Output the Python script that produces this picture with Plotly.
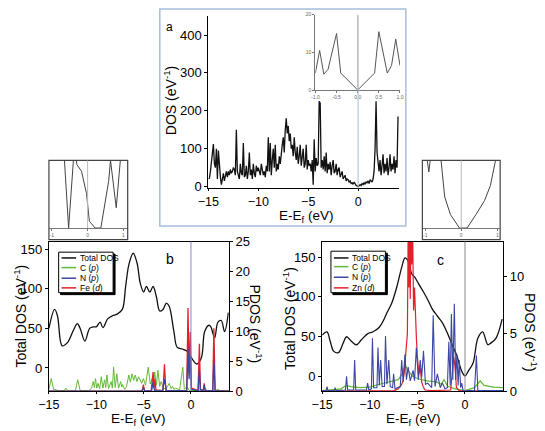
import plotly.graph_objects as go

# ---------------- data ----------------
# panel a : DOS of the sheet
E_a = [-15.0, -14.9, -14.8, -14.7, -14.6, -14.5, -14.4, -14.3, -14.2, -14.1, -14.0,
       -13.9, -13.8, -13.7, -13.6, -13.5, -13.4, -13.3, -13.2, -13.1, -13.0,
       -12.9, -12.8, -12.7, -12.6, -12.5, -12.4, -12.3, -12.2, -12.1, -12.0,
       -11.9, -11.8, -11.7, -11.6, -11.5, -11.4, -11.3, -11.2, -11.1, -11.0,
       -10.9, -10.8, -10.7, -10.6, -10.5, -10.4, -10.3, -10.2, -10.1, -10.0,
       -9.9, -9.8, -9.7, -9.6, -9.5, -9.4, -9.3, -9.2, -9.1, -9.0,
       -8.9, -8.8, -8.7, -8.6, -8.5, -8.4, -8.3, -8.2, -8.1, -8.0,
       -7.9, -7.8, -7.7, -7.6, -7.5, -7.4, -7.3, -7.2, -7.1, -7.0,
       -6.9, -6.8, -6.7, -6.6, -6.5, -6.4, -6.3, -6.2, -6.1, -6.0,
       -5.9, -5.8, -5.7, -5.6, -5.5, -5.4, -5.3, -5.2, -5.1, -5.0,
       -4.9, -4.8, -4.7, -4.6, -4.5, -4.4, -4.3, -4.2, -4.1, -4.0,
       -3.9, -3.8, -3.7, -3.6, -3.5, -3.4, -3.3, -3.2, -3.1, -3.0,
       -2.9, -2.8, -2.7, -2.6, -2.5, -2.4, -2.3, -2.2, -2.1, -2.0,
       -1.9, -1.8, -1.7, -1.6, -1.5, -1.4, -1.3, -1.2, -1.1, -1.0,
       -0.9, -0.8, -0.7, -0.6, -0.5, -0.4, -0.3, -0.2, -0.1, 0.0,
       0.1, 0.2, 0.3, 0.4, 0.5, 0.6, 0.7, 0.8, 0.9, 1.0,
       1.1, 1.2, 1.3, 1.4, 1.5, 1.6, 1.7, 1.8, 1.9, 2.0,
       2.1, 2.2, 2.3, 2.4, 2.5, 2.6, 2.7, 2.8, 2.9, 3.0,
       3.1, 3.2, 3.3, 3.4, 3.5, 3.6, 3.7, 3.8, 3.9, 4.0]
DOS_a = [20, 22, 40, 65, 80, 112, 60, 50, 100, 20, 95,
         40, 25, 5, 20, 35, 15, 30, 40, 25, 40,
         30, 45, 35, 40, 50, 45, 30, 150, 40, 25,
         20, 60, 35, 30, 115, 25, 30, 55, 20, 40,
         90, 30, 45, 20, 60, 35, 25, 55, 40, 50,
         35, 30, 60, 45, 30, 40, 25, 55, 40, 130,
         40, 115, 30, 70, 100, 50, 110, 40, 60, 45,
         80, 60, 95, 110, 130, 90, 150, 180, 140, 160,
         120, 140, 100, 110, 80, 130, 90, 70, 105, 60,
         80, 110, 55, 75, 100, 50, 60, 110, 45, 70,
         55, 60, 40, 70, 5, 125, 40, 75, 55, 60,
         225, 220, 50, 70, 45, 80, 40, 90, 35, 60,
         45, 65, 30, 55, 70, 35, 40, 60, 30, 45,
         50, 25, 35, 40, 20, 25, 30, 15, 20, 18,
         12, 15, 8, 10, 6, 12, 5, 3, 2, 0,
         2, 5, 3, 8, 5, 10, 6, 12, 10, 15,
         8, 18, 15, 12, 20, 40, 100, 225, 90, 60,
         40, 70, 30, 55, 85, 35, 60, 40, 75, 30,
         50, 85, 40, 60, 45, 80, 35, 70, 50, 185]

# inset of panel a (near Ef)
E_ia = [-1.0, -0.9, -0.8, -0.7, -0.5, -0.4, 0.0, 0.4, 0.5, 0.7, 0.8, 0.9, 1.0]
DOS_ia = [4.5, 10.5, 4.2, 5.5, 15, 4.5, 0, 4.5, 15.5, 4.5, 6.5, 13.5, 6.5]

# panel b : total DOS
E_b_tot = [-15.0, -14.4, -14.1, -13.6, -13.05, -12.4, -12.0, -11.7, -11.2, -10.7,
           -10.3, -10.0, -9.6, -9.3, -8.8, -8.3, -7.8, -7.25, -6.9, -6.55,
           -6.1, -5.7, -5.35, -5.0, -4.7, -4.35, -4.0, -3.65, -3.3, -2.95,
           -2.6, -2.3, -1.8, -1.45, -0.9, -0.4, -0.05, 0.27, 0.6, 1.1,
           1.45, 1.9, 2.1, 2.5, 2.85, 3.2, 3.55, 3.95]
DOS_b_tot = [50, 74, 66, 28, 32, 48, 56, 50, 34, 50,
             52, 52, 58, 51, 62, 66, 68, 74, 103, 131,
             145, 133, 107, 96, 103, 96, 103, 90, 72, 74,
             82, 78, 46, 26, 24, 21, 15, 9, 5, 13,
             46, 54, 52, 38, 58, 60, 46, 70]
# panel b : C(p)
E_b_C = [-15.0, -14.76, -14.5, -14.0, -13.4, -13.22, -13.0, -12.2, -11.96, -11.7,
         -10.8, -10.5, -10.32, -10.2, -10.08, -9.95, -9.81, -9.65, -9.47, -9.3,
         -9.12, -9.0, -8.88, -8.7, -8.44, -8.3, -8.17, -8.0, -7.83, -7.65,
         -7.42, -7.3, -7.24, -7.0, -6.8, -6.56, -6.4, -6.22, -6.05, -5.88,
         -5.7, -5.54, -5.37, -5.2, -5.02, -4.8, -4.51, -4.3, -4.1, -3.95,
         -3.83, -3.65, -3.49, -3.3, -3.15, -2.9, -2.6, -2.29, -2.1, -1.95,
         -1.8, -1.61, -1.2, -0.86, -0.7, -0.41, -0.2, 0.5, 1.2, 1.47,
         1.7, 2.6, 2.83, 3.1, 4.0]
PDOS_b_C = [0.3, 2.1, 0.3, 0.1, 0.1, 0.5, 0.05, 0.1, 1.9, 0.1,
            0.1, 0.5, 1.6, 0.6, 2.1, 0.5, 1.3, 0.4, 2.4, 0.5,
            1.9, 0.6, 2.7, 0.4, 1.6, 0.5, 4.0, 0.6, 2.9, 0.5,
            1.6, 0.7, 1.1, 0.3, 0.8, 2.7, 1.5, 2.9, 1.8, 2.7,
            1.6, 2.4, 1.9, 1.3, 2.1, 1.0, 4.0, 1.2, 2.1, 0.9,
            3.2, 1.0, 3.5, 0.8, 1.6, 0.4, 0.5, 1.3, 0.4, 0.8,
            0.3, 0.5, 0.2, 4.0, 0.3, 0.8, 0.1, 0.1, 0.1, 0.5,
            0.1, 0.1, 0.3, 0.05, 0.1]
# panel b : N(p)
E_b_N = [-15.0, -5.2, -5.02, -4.85, -4.15, -4.0, -3.85, -3.0, -2.8, -2.6,
         -0.45, -0.31, -0.2, -0.07, 0.05, 0.75, 0.89, 1.0, 1.3, 1.4,
         1.5, 2.3, 2.42, 2.55, 4.0]
PDOS_b_N = [0.0, 0.0, 0.5, 0.0, 0.1, 1.5, 0.1, 0.1, 2.0, 0.1,
            0.1, 7.0, 2.0, 6.0, 0.3, 0.1, 3.5, 0.2, 0.1, 1.0,
            0.1, 0.1, 5.0, 0.1, 0.0]
# panel b : Fe(d)
E_b_Fe = [-15.0, -6.0, -5.15, -5.02, -4.9, -4.2, -4.0, -3.9, -3.8, -3.7,
          -2.95, -2.8, -2.65, -0.45, -0.31, -0.2, -0.07, 0.05, 0.75, 0.89,
          1.0, 1.3, 1.4, 1.5, 2.3, 2.42, 2.55, 4.0]
PDOS_b_Fe = [0.0, 0.0, 0.05, 1.1, 0.05, 0.1, 3.2, 0.5, 2.0, 0.2,
             0.1, 4.5, 0.1, 0.1, 13.9, 3.0, 9.9, 0.5, 0.1, 7.9,
             0.3, 0.1, 1.3, 0.1, 0.1, 10.5, 0.1, 0.0]
# inset of panel b
E_ib = [-0.67, -0.53, -0.37, -0.3, -0.17, -0.03, 0.05, 0.21, 0.37, 0.59, 0.64, 0.8, 0.93]
DOS_ib = [12, 0, 12, 9.4, 8.4, 5.1, 1.0, 0, 0, 7, 10, 3, 11]

# panel c : total DOS
E_c_tot = [-15.0, -14.5, -14.15, -13.8, -13.3, -12.8, -12.45, -11.9, -11.4, -10.9,
           -10.2, -9.7, -9.0, -8.5, -8.2, -7.7, -7.15, -6.65, -6.3, -5.97,
           -5.6, -5.3, -4.9, -4.4, -3.9, -3.4, -2.9, -2.4, -1.9, -1.35,
           -0.85, -0.35, 0.0, 0.35, 0.85, 1.35, 1.85, 2.4, 2.7, 3.25,
           3.9]
DOS_c_tot = [52, 56, 44, 32, 30, 42, 50, 44, 40, 46,
             54, 56, 62, 72, 80, 92, 113, 137, 149, 145,
             129, 125, 117, 107, 96, 84, 76, 68, 56, 40,
             26, 7, 1, 7, 17, 48, 56, 40, 42, 48,
             72]
# panel c : C(p)
E_c_C = [-15.0, -14.0, -13.0, -12.5, -12.0, -11.0, -10.0, -9.0, -8.0, -7.0,
         -6.6, -6.3, -6.0, -5.5, -5.0, -4.0, -3.0, -2.5, -2.2, -1.8,
         -1.0, 0.0, 1.0, 1.6, 2.0, 3.0, 4.0]
PDOS_c_C = [0.05, 0.1, 0.2, 0.5, 0.4, 0.3, 0.35, 0.6, 0.8, 1.0,
            1.5, 2.3, 1.8, 1.3, 1.1, 0.9, 0.8, 0.6, 1.0, 0.4,
            0.2, 0.05, 0.3, 0.9, 0.5, 0.35, 0.3]
# panel c : N(p)
E_c_N = [-15.0, -14.6, -14.49, -14.4, -13.75, -13.64, -13.55, -12.55, -12.44, -12.33,
         -11.7, -11.59, -11.48, -10.35, -10.23, -10.1, -9.83, -9.72, -9.6, -9.25,
         -9.14, -9.0, -8.86, -8.7, -8.46, -8.35, -8.2, -8.01, -7.85, -7.6,
         -7.5, -7.35, -6.8, -6.65, -6.5, -6.31, -6.15, -5.97, -5.75, -5.45,
         -5.3, -5.11, -4.9, -4.7, -4.55, -4.36, -4.15, -3.92, -3.5, -3.34,
         -3.15, -2.9, -2.6, -2.38, -2.1, -1.85, -1.7, -1.55, -1.43, -1.28,
         -1.12, -0.98, -0.85, -0.72, -0.61, -0.45, -0.34, -0.2, 1.0, 1.2,
         1.35, 4.0]
PDOS_c_N = [0.05, 0.05, 0.4, 0.05, 0.05, 0.3, 0.05, 0.1, 1.3, 0.1,
            0.1, 2.7, 0.1, 0.1, 0.7, 0.1, 0.2, 4.6, 0.3, 0.3,
            3.8, 0.5, 2.7, 0.4, 0.4, 4.8, 0.6, 2.7, 0.4, 0.3,
            1.5, 0.2, 0.4, 2.7, 0.8, 3.2, 1.0, 2.1, 0.9, 1.8,
            0.9, 3.8, 1.0, 2.7, 1.2, 3.5, 0.6, 0.7, 0.3, 6.6,
            0.4, 1.5, 0.3, 0.7, 0.2, 0.3, 4.3, 0.5, 6.7, 1.0,
            7.6, 1.0, 3.2, 0.5, 2.7, 0.3, 0.7, 0.05, 0.05, 3.1,
            0.05, 0.05]
# panel c : Zn(d)
E_c_Zn = [-15.0, -7.4, -7.0, -6.7, -6.5, -6.35, -6.2, -6.05, -5.97, -5.9,
          -5.82, -5.75, -5.68, -5.6, -5.5, -5.4, -5.3, -5.2, -5.1, -5.0,
          -4.85, -4.7, -4.55, -4.4, -4.2, -3.5, -1.5, -1.35, -1.2, -1.05,
          -0.9, -0.6, 4.0]
PDOS_c_Zn = [0.0, 0.05, 0.2, 0.5, 0.9, 1.8, 3.5, 5.0, 14, 9,
             14, 8, 14, 11, 14, 7, 9, 5.5, 4.5, 3.0,
             1.5, 2.0, 0.8, 0.4, 0.1, 0.05, 0.1, 1.5, 3.0, 2.2,
             0.3, 0.05, 0.0]
# inset of panel c
E_ic = [-0.97, -0.9, -0.84, -0.57, -0.46, -0.30, -0.05, 0.16, 0.41, 0.65, 0.81, 0.97]
DOS_ic = [11, 8.3, 11, 10.5, 4.6, 2, 0, 0, 2, 4.1, 6.3, 10.5]

# ---------------- styling ----------------
W, H = 545, 431
FONT = "Liberation Sans, Arial, sans-serif"
BLACK, GREEN, BLUE, RED = "#111111", "#62b936", "#3c46a3", "#e3202a"


def px(x):
    return x / W


def py(y):
    return 1 - y / H


fig = go.Figure()


def line(x, y, xa, ya, color, width=1.0, shape="linear"):
    fig.add_trace(go.Scatter(x=x, y=y, xaxis=xa, yaxis=ya, mode="lines",
                             line=dict(color=color, width=width, shape=shape),
                             showlegend=False, hoverinfo="skip"))


line(E_a, DOS_a, "x", "y", BLACK, 1.3)
line(E_ia, DOS_ia, "x2", "y2", "#555555", 1.0)
line(E_b_tot, DOS_b_tot, "x3", "y3", BLACK, 1.3, "spline")
line(E_b_C, PDOS_b_C, "x3", "y4", GREEN, 1.0)
line(E_b_Fe, PDOS_b_Fe, "x3", "y4", RED, 1.3)
line(E_b_N, PDOS_b_N, "x3", "y4", BLUE, 1.3)
line(E_c_tot, DOS_c_tot, "x5", "y5", BLACK, 1.3, "spline")
line(E_c_C, PDOS_c_C, "x5", "y6", GREEN, 1.2)
line(E_c_Zn, PDOS_c_Zn, "x5", "y6", RED, 1.2)
line(E_c_N, PDOS_c_N, "x5", "y6", BLUE, 1.1)
line(E_ib, DOS_ib, "x7", "y7", "#444444", 1.0)
line(E_ic, DOS_ic, "x8", "y8", "#444444", 1.0)

tf = dict(family=FONT, size=13, color="black")
xtf = dict(family=FONT, size=12.5, color="black")
common = dict(showgrid=False, zeroline=False, showline=True, linecolor="black",
              linewidth=1, ticks="outside", ticklen=3, tickcolor="black", tickfont=tf)
xcommon = dict(common, ticklen=2, tickfont=xtf)
small = dict(showgrid=False, zeroline=False, showline=True, linecolor="#777777",
             linewidth=1, ticks="outside", ticklen=2, tickcolor="#777777",
             tickfont=dict(family=FONT, size=5, color="#666666"))

fig.update_layout(
    width=W, height=H, margin=dict(l=0, r=0, t=0, b=0),
    paper_bgcolor="white", plot_bgcolor="rgba(0,0,0,0)", showlegend=False,
    # panel a
    xaxis=dict(xcommon, domain=[px(203), px(399)], range=[-15, 4.1], anchor="y",
               tickvals=[-15, -10, -5, 0]),
    yaxis=dict(common, domain=[py(188), py(9)], range=[-5, 451], anchor="x",
               tickvals=[0, 100, 200, 300, 400]),
    # inset a
    xaxis2=dict(small, domain=[px(313), px(400)], range=[-1, 1], anchor="y2",
                tickvals=[-1, -0.5, 0, 0.5, 1],
                ticktext=["-1.0", "-0.5", "0.0", "0.5", "1.0"]),
    yaxis2=dict(small, domain=[py(86), py(8)], range=[0, 20], anchor="x2",
                tickvals=[0, 10, 20]),
    # panel b
    xaxis3=dict(xcommon, domain=[px(39), px(224)], range=[-15, 4], anchor="y3",
                mirror=True, tickvals=[-15, -10, -5, 0]),
    yaxis3=dict(common, domain=[py(398), py(243)], range=[-29.3, 159.8], anchor="x3",
                tickvals=[0, 50, 100, 150]),
    yaxis4=dict(common, overlaying="y3", side="right", anchor="x3", range=[0, 25],
                tickvals=[0, 5, 10, 15, 20, 25]),
    # panel c
    xaxis5=dict(xcommon, domain=[px(320), px(506)], range=[-15, 4], anchor="y5",
                mirror=True, tickvals=[-15, -10, -5, 0]),
    yaxis5=dict(common, domain=[py(398), py(243)], range=[-18.2, 169.4], anchor="x5",
                tickvals=[0, 50, 100, 150]),
    yaxis6=dict(common, overlaying="y5", side="right", anchor="x5", range=[0, 13.0],
                tickvals=[0, 5, 10]),
    # inset b
    xaxis7=dict(small, domain=[px(39), px(120)], range=[-1.08, 1.12], anchor="y7",
                tickvals=[-1, 0, 1], ticktext=["-1", "0", "1"]),
    yaxis7=dict(domain=[py(229), py(159)], range=[0, 10], anchor="x7", visible=False),
    # inset c
    xaxis8=dict(small, domain=[px(423), px(503)], range=[-1.08, 1.08], anchor="y8",
                tickvals=[-1, 0, 1], ticktext=["-1", "0", "1"]),
    yaxis8=dict(domain=[py(229), py(159)], range=[0, 10], anchor="x8", visible=False),
)

shapes = []
# frame around panel a
shapes.append(dict(type="rect", xref="paper", yref="paper", x0=px(153), x1=px(406),
                   y0=py(227), y1=py(2), line=dict(color="#a7bfdb", width=1.5)))
# inset frames b, c
for x0, x1 in [(39, 120), (423, 503)]:
    shapes.append(dict(type="rect", xref="paper", yref="paper", x0=px(x0), x1=px(x1),
                       y0=py(241), y1=py(159), line=dict(color="#444444", width=1.2)))
# Fermi level lines
for xr, yr, col in [("x", "y", "#a7bfdb"), ("x2", "y2", "#bbbbbb"), ("x3", "y3", "#8484cc"),
                    ("x5", "y5", "#8c8c8c"), ("x7", "y7", "#bbbbbb"), ("x8", "y8", "#bbbbbb")]:
    shapes.append(dict(type="line", xref=xr, yref=yr + " domain", x0=0, x1=0, y0=0, y1=1,
                       line=dict(color=col, width=1)))

annotations = []
# legends
legend_entries = [("Total DOS", BLACK), ("C (<i>p</i>)", GREEN), ("N (<i>p</i>)", BLUE)]
for (bx0, by0, bx1, by1, ys, metal) in [(49, 254, 105, 296, [260, 270, 281, 291], "Fe (<i>d</i>)"),
                                        (329, 253, 385, 296, [260, 269, 280, 291], "Zn (<i>d</i>)")]:
    shapes.append(dict(type="rect", xref="paper", yref="paper", layer="above",
                       x0=px(bx0 + 2), x1=px(bx1 + 2), y0=py(by1 + 2), y1=py(by0 + 2),
                       fillcolor="black", line=dict(color="black", width=1)))
    shapes.append(dict(type="rect", xref="paper", yref="paper", layer="above",
                       x0=px(bx0), x1=px(bx1), y0=py(by1), y1=py(by0),
                       fillcolor="white", line=dict(color="black", width=1)))
    for (txt, col), yy in zip(legend_entries + [(metal, RED)], ys):
        shapes.append(dict(type="line", xref="paper", yref="paper", layer="above",
                           x0=px(bx0 + 3), x1=px(bx0 + 18), y0=py(yy), y1=py(yy),
                           line=dict(color=col, width=1.5)))
        annotations.append(dict(x=px(bx0 + 20), y=py(yy), xref="paper", yref="paper",
                                text=txt, showarrow=False, xanchor="left", yanchor="middle",
                                font=dict(family=FONT, size=8.5, color="black")))


def label(x, y, text, size=14, angle=0, yanchor="middle", xanchor="center"):
    annotations.append(dict(x=px(x), y=py(y), xref="paper", yref="paper", text=text,
                            showarrow=False, xanchor=xanchor, yanchor=yanchor,
                            textangle=angle, borderpad=0,
                            font=dict(family=FONT, size=size, color="black")))


label(163, 21, "a", 12)
label(163, 261, "b", 14)
label(442, 262, "c", 14)
label(163, 97, "DOS (eV<sup>-1</sup>)", 14, -90)
label(303, 207, "E-E<sub>f</sub> (eV)", 13.5, yanchor="top")
label(9, 320, "Total DOS (eV<sup>-1</sup>)", 14, -90)
label(252, 328, "PDOS (eV<sup>-1</sup>)", 14, 90)
label(131, 418, "E-E<sub>f</sub> (eV)", 13.5, yanchor="top")
label(286, 323, "Total DOS (eV<sup>-1</sup>)", 14, -90)
label(534, 337, "PDOS (eV<sup>-1</sup>)", 14, 90)
label(413, 418, "E-E<sub>f</sub> (eV)", 13.5, yanchor="top")

fig.update_layout(shapes=shapes, annotations=annotations)
fig.write_html("out.html")
